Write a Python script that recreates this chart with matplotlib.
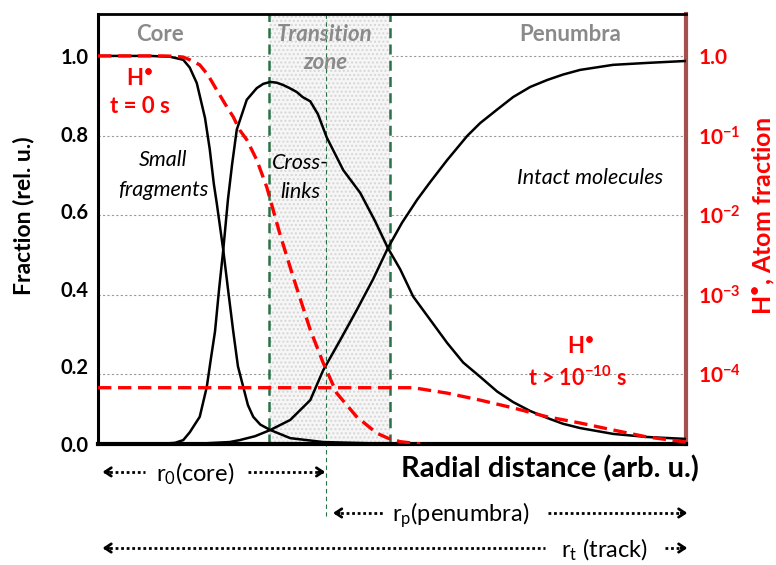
import numpy as np
import matplotlib
matplotlib.use('Agg')
import matplotlib.pyplot as plt

plt.rcParams['font.family'] = ['Lato', 'DejaVu Sans']
plt.rcParams['mathtext.fontset'] = 'custom'
plt.rcParams['mathtext.rm'] = 'Lato'
plt.rcParams['mathtext.it'] = 'Lato:italic'
plt.rcParams['mathtext.bf'] = 'Lato:bold'

# ----------------------------- DATA (arb. units, 0..100) ---------------------
frag_x = [0, 8.8, 12.2, 14.5, 15.6, 16.8, 18.2, 19.0, 19.7, 20.2, 21.3, 22.1,
          23.0, 23.8, 24.7, 25.5, 26.4, 27.6, 29.3, 32.7, 38.3, 48.0, 100]
frag_y = [1.0, 1.0, 0.998, 0.99, 0.97, 0.93, 0.84, 0.76, 0.67, 0.62, 0.50, 0.40,
          0.29, 0.20, 0.147, 0.10, 0.07, 0.05, 0.036, 0.015, 0.005, 0.001, 0.0]

cross_x = [0, 10.5, 13.1, 14.5, 15.6, 17.3, 18.5, 19.2, 19.9, 20.6, 21.3, 22.1,
           22.8, 23.6, 25.3, 27.0, 28.1, 29.3, 30.4, 31.5, 32.6, 33.8, 34.8,
           36.1, 37.4, 38.9, 41.7, 44.6, 47.1, 49.3, 51.4, 53.6, 56.5, 59.4,
           62.1, 65.0, 67.9, 70.6, 73.5, 76.4, 79.1, 82.0, 87.6, 93.4, 100]
cross_y = [0, 0, 0.003, 0.01, 0.03, 0.07, 0.147, 0.22, 0.29, 0.40, 0.50, 0.63,
           0.72, 0.81, 0.887, 0.917, 0.928, 0.933, 0.931, 0.925, 0.917, 0.907,
           0.894, 0.883, 0.85, 0.79, 0.706, 0.647, 0.575, 0.505, 0.45, 0.38,
           0.32, 0.26, 0.21, 0.173, 0.135, 0.108, 0.085, 0.067, 0.052, 0.041,
           0.026, 0.018, 0.013]

intact_x = [0, 17.3, 22.4, 24.1, 26.7, 29.3, 32.7, 36.1, 38.3, 41.2, 44.0, 46.8,
            49.3, 51.7, 54.3, 56.5, 59.4, 62.8, 65.0, 67.9, 70.6, 73.5, 76.4,
            79.1, 82.0, 87.6, 93.4, 100]
intact_y = [0, 0.001, 0.005, 0.01, 0.02, 0.036, 0.062, 0.113, 0.19, 0.268,
            0.345, 0.425, 0.505, 0.57, 0.63, 0.675, 0.732, 0.794, 0.827, 0.862,
            0.894, 0.92, 0.938, 0.952, 0.964, 0.977, 0.982, 0.987]

h0_x = [0, 11.0, 13.1, 14.5, 15.6, 17.3, 18.7, 20.2, 21.9, 23.0, 24.1, 25.3,
        27.0, 28.7, 30.9, 33.2, 36.1, 38.3, 40.6, 44.0, 47.4, 49.3, 51.4, 54.8]
h0_y = [1.0, 1.0, 0.999, 0.997, 0.99, 0.977, 0.951, 0.912, 0.869, 0.843, 0.809,
        0.784, 0.732, 0.662, 0.543, 0.43, 0.294, 0.209, 0.131, 0.07, 0.028,
        0.015, 0.006, 0.0]

hl_x = [0, 48.0, 53.6, 59.4, 65.0, 70.6, 76.4, 82.0, 87.6, 93.4, 100]
hl_y = [0.145, 0.145, 0.145, 0.131, 0.113, 0.093, 0.07, 0.054, 0.036, 0.018,
        0.005]

left_ticks = [0.0, 0.2, 0.4, 0.6, 0.8, 1.0]
left_labels = ['0.0', '0.2', '0.4', '0.6', '0.8', '1.0']
right_ticks = [1, 1e-1, 1e-2, 1e-3, 1e-4]
right_labels = ['1.0', r'$\mathbf{10^{-1}}$', r'$\mathbf{10^{-2}}$',
                r'$\mathbf{10^{-3}}$', r'$\mathbf{10^{-4}}$']

zone_left, zone_mid, zone_right = 29.1, 38.8, 49.7

# ----------------------------- FIGURE ----------------------------------------
fig = plt.figure(figsize=(7.76, 5.65), dpi=100)
ax = fig.add_axes([0.1263, 0.2142, 0.7577, 0.761])
ax.set_xlim(0, 100)
ax.set_ylim(0, 1.108)

ax2 = ax.twinx()
ax2.set_yscale('log')
ax2.set_ylim(10 ** -4.878, 10 ** 0.530)
ax2.set_yticks(right_ticks)
ax2.set_yticklabels(right_labels)
ax2.minorticks_off()
ax2.tick_params(axis='y', length=0, pad=9, labelsize=15, labelcolor='#ff0000')
for lab in ax2.get_yticklabels():
    lab.set_fontweight('bold')
ax2.grid(axis='y', color='#9a9a9a', linestyle=(0, (2, 2)), linewidth=0.8)
ax2.set_ylabel(r'$\mathbf{H^{•}}$, Atom fraction', color='#ff0000',
               fontsize=18, fontweight='bold')
ax2.yaxis.set_label_coords(1.110, 0.53)

# transition zone
ax.axvspan(zone_left, zone_right, facecolor='#f6f6f6', edgecolor='#d6d6d6',
           hatch='....', linewidth=0, zorder=0)
ax.axvline(zone_left, color='#2a7148', linestyle=(0, (4, 2.5)), linewidth=1.8)
ax.axvline(zone_right, color='#2a7148', linestyle=(0, (4, 2.5)), linewidth=1.8)
ax.plot([zone_mid, zone_mid], [1.0, -0.167], color='#2a7148',
        linestyle=(0, (4, 3)), linewidth=0.8, transform=ax.get_xaxis_transform(),
        clip_on=False)

ax.plot(frag_x, frag_y, color='black', linewidth=1.8, zorder=4)
ax.plot(cross_x, cross_y, color='black', linewidth=1.8, zorder=4)
ax.plot(intact_x, intact_y, color='black', linewidth=1.8, zorder=4)
ax.plot(h0_x, h0_y, color='#ff0000', linewidth=2.4, linestyle=(0, (4, 2)), zorder=5)
ax.plot(hl_x, hl_y, color='#ff0000', linewidth=2.4, linestyle=(0, (4, 2)), zorder=5)

ax.set_zorder(ax2.get_zorder() + 1)
ax.patch.set_visible(False)

ax.set_yticks(left_ticks)
ax.set_yticklabels(left_labels)
ax.set_xticks([])
ax.tick_params(axis='y', length=0, pad=7, labelsize=14.5)
for lab in ax.get_yticklabels():
    lab.set_fontweight('bold')
ax.set_ylabel('Fraction (rel. u.)', fontsize=16.5, fontweight='bold')
ax.yaxis.set_label_coords(-0.108, 0.53)

ax.spines['left'].set_linewidth(2.2)
ax.spines['bottom'].set_linewidth(3)
ax.spines['top'].set_linewidth(2)
ax.spines['right'].set_visible(False)
for s in ['left', 'bottom', 'top']:
    ax2.spines[s].set_visible(False)
ax2.spines['right'].set_color('#a5504c')
ax2.spines['right'].set_linewidth(3)

# ----------------------------- LABELS ----------------------------------------
gray = '#8a8a8a'
ax.text(0.105, 0.953, 'Core', transform=ax.transAxes, ha='center', va='center',
        fontsize=16, fontweight='bold', color=gray)
ax.text(0.386, 0.953, 'Transition', transform=ax.transAxes, ha='center',
        va='center', fontsize=16, fontweight='bold', style='italic', color=gray)
ax.text(0.386, 0.888, 'zone', transform=ax.transAxes, ha='center', va='center',
        fontsize=16, fontweight='bold', style='italic', color=gray)
ax.text(0.803, 0.953, 'Penumbra', transform=ax.transAxes, ha='center',
        va='center', fontsize=16, fontweight='bold', color=gray)

ax.text(0.071, 0.851, r'$\mathbf{H^{•}}$', transform=ax.transAxes, ha='center',
        va='center', fontsize=16, color='#ff0000')
ax.text(0.071, 0.786, 't = 0 s', transform=ax.transAxes, ha='center',
        va='center', fontsize=16, fontweight='bold', color='#ff0000')
ax.text(0.820, 0.226, r'$\mathbf{H^{•}}$', transform=ax.transAxes, ha='center',
        va='center', fontsize=16, color='#ff0000')
ax.text(0.816, 0.153, r't > $\mathbf{10^{-10}}$ s', transform=ax.transAxes,
        ha='center', va='center', fontsize=15.5, fontweight='bold', color='#ff0000')

ax.text(0.111, 0.660, 'Small', transform=ax.transAxes, ha='center',
        va='center', fontsize=15.5, style='italic')
ax.text(0.111, 0.591, 'fragments', transform=ax.transAxes, ha='center',
        va='center', fontsize=15.5, style='italic')
ax.text(0.344, 0.653, 'Cross-', transform=ax.transAxes, ha='center',
        va='center', fontsize=15.5, style='italic')
ax.text(0.344, 0.586, 'links', transform=ax.transAxes, ha='center',
        va='center', fontsize=15.5, style='italic')
ax.text(0.837, 0.619, 'Intact molecules', transform=ax.transAxes, ha='center',
        va='center', fontsize=15.5, style='italic')

ax.text(0.768, -0.058, 'Radial distance (arb. u.)', transform=ax.transAxes,
        ha='center', va='center', fontsize=21, fontweight='bold')

# ----------------------------- RANGE ARROWS ----------------------------------
xt = ax.get_xaxis_transform()


def range_arrow(x0, x1, y, t0, t1, label, lx):
    ax.plot([x0 + 0.8, t0], [y, y], color='black', linestyle=(0, (1, 1)),
            linewidth=2, transform=xt, clip_on=False)
    ax.plot([t1, x1 - 0.8], [y, y], color='black', linestyle=(0, (1, 1)),
            linewidth=2, transform=xt, clip_on=False)
    for a, b in [(x0, x0 + 2), (x1, x1 - 2)]:
        ax.annotate('', xy=(a, y), xytext=(b, y), xycoords=xt, textcoords=xt,
                    arrowprops=dict(arrowstyle='->,head_length=0.45,head_width=0.3',
                                    lw=2, color='black'), annotation_clip=False)
    ax.text(lx, y - 0.005, label, transform=xt, ha='center', va='center',
            fontsize=17)


range_arrow(0.3, 39.1, -0.065, 8.0, 25.5, r'r$_0$(core)', 16.5)
range_arrow(39.5, 100.7, -0.1605, 48.8, 76.5, r'r$_\mathrm{p}$(penumbra)', 61.6)
range_arrow(0.3, 100.7, -0.242, 76.0, 96.4, r'r$_\mathrm{t}$ (track)', 86.2)

fig.savefig('out.png', dpi=100)
